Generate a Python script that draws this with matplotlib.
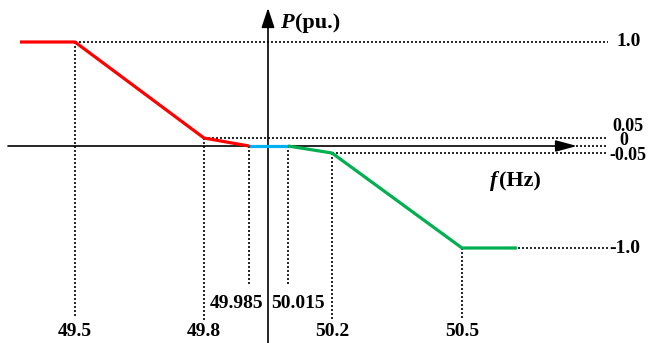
import matplotlib
matplotlib.use("Agg")
import matplotlib.pyplot as plt
from matplotlib.transforms import offset_copy

# frequency breakpoints (Hz) and power (pu.)
freq_labels = ["49.5", "49.8", "49.985", "50.015", "50.2", "50.5"]
power_labels = ["1.0", "0.05", "0", "-0.05", "-1.0"]
# schematic positions on the (non-linear) drawing
x_break = [-193, -64, -19, 20, 64, 194]
x_start, x_end = -248, 249
y_one, y_p05, y_zero, y_m05, y_mone = 104, 8, 0, -7, -102

red_x = [x_start, x_break[0], x_break[1], x_break[2]]
red_y = [y_one, y_one, y_p05, y_zero]
cyan_x = [x_break[2], x_break[3]]
cyan_y = [y_zero, y_zero]
green_x = [x_break[3], x_break[4], x_break[5], x_end]
green_y = [y_zero, y_m05, y_mone, y_mone]

plt.rcParams['font.family'] = ['Liberation Serif', 'DejaVu Serif']
fig = plt.figure(figsize=(6.49, 3.43), dpi=100)
ax = fig.add_axes([0, 0, 1, 1])
ax.set_xlim(-268, 381)
ax.set_ylim(-197, 146)
ax.axis('off')

dot = dict(color='black', lw=1.2, linestyle=(0, (1.2, 1.2)))
x_right = 340
# horizontal dotted guides
ax.plot([x_break[0], x_right], [y_one, y_one], **dot)
ax.plot([x_break[1], x_right], [y_p05, y_p05], **dot)
ax.plot([300, x_right], [y_zero, y_zero], **dot)
ax.plot([x_break[4], x_right], [y_m05, y_m05], **dot)
ax.plot([x_break[5], x_right], [y_mone, y_mone], **dot)
# vertical dotted guides
ax.plot([x_break[0], x_break[0]], [y_one, -172], **dot)
ax.plot([x_break[1], x_break[1]], [y_p05, -174], **dot)
ax.plot([x_break[2], x_break[2]], [y_zero, -139], **dot)
ax.plot([x_break[3], x_break[3]], [y_zero, -139], **dot)
ax.plot([x_break[4], x_break[4]], [y_m05, -174], **dot)
ax.plot([x_break[5], x_break[5]], [y_mone, -172], **dot)

# axes with arrows
ax.annotate('', xy=(309, 0), xytext=(-260, 0),
            arrowprops=dict(arrowstyle='-|>,head_length=1.3,head_width=0.35',
                            color='black', lw=1.2, shrinkA=0, shrinkB=0))
ax.annotate('', xy=(0, 138), xytext=(0, -200),
            arrowprops=dict(arrowstyle='-|>,head_length=1.2,head_width=0.4',
                            color='black', lw=1.2, shrinkA=0, shrinkB=0))

# curves
ax.plot(red_x, red_y, color='#ff0000', lw=2.3, solid_capstyle='butt', zorder=3)
ax.plot(cyan_x, cyan_y, color='#00b0f0', lw=2.3, solid_capstyle='butt', zorder=3)
ax.plot(green_x, green_y, color='#00b050', lw=2.3, solid_capstyle='butt', zorder=3)

fs = 14
bold = dict(fontweight='bold', fontsize=fs, color='black')
# frequency labels
ax.text(x_break[0], -185, freq_labels[0], ha='center', va='center', **bold)
ax.text(x_break[1], -185, freq_labels[1], ha='center', va='center', **bold)
ax.text(x_break[2] - 12, -157, freq_labels[2], ha='center', va='center', **bold)
ax.text(x_break[3] + 10, -157, freq_labels[3], ha='center', va='center', **bold)
ax.text(x_break[4], -185, freq_labels[4], ha='center', va='center', **bold)
ax.text(x_break[5], -185, freq_labels[5], ha='center', va='center', **bold)
# power labels
ax.text(348, y_one, power_labels[0], ha='left', va='center', **bold)
ax.text(344, 20, power_labels[1], ha='left', va='center', fontweight='bold', fontsize=13)
ax.text(351, 6, power_labels[2], ha='left', va='center', fontweight='bold', fontsize=13)
ax.text(341, -9, power_labels[3], ha='left', va='center', fontweight='bold', fontsize=13)
ax.text(341, y_mone, power_labels[4], ha='left', va='center', **bold)

# axis titles (italic symbol + bold unit)
def title(x, y, sym, unit, size):
    t = ax.text(x, y, sym, fontsize=size, ha='left', va='center',
                fontweight='bold', fontstyle='italic')
    fig.canvas.draw()
    w = t.get_window_extent().width
    tr = offset_copy(ax.transData, fig=fig, x=w * 72 / fig.dpi + 1, y=0, units='points')
    ax.text(x, y, unit, fontsize=size, ha='left', va='center',
            fontweight='bold', transform=tr)

title(12, 123, 'P', '(pu.)', 16)
title(222, -35, 'f', '(Hz)', 16)

fig.savefig('out.png', dpi=100)
